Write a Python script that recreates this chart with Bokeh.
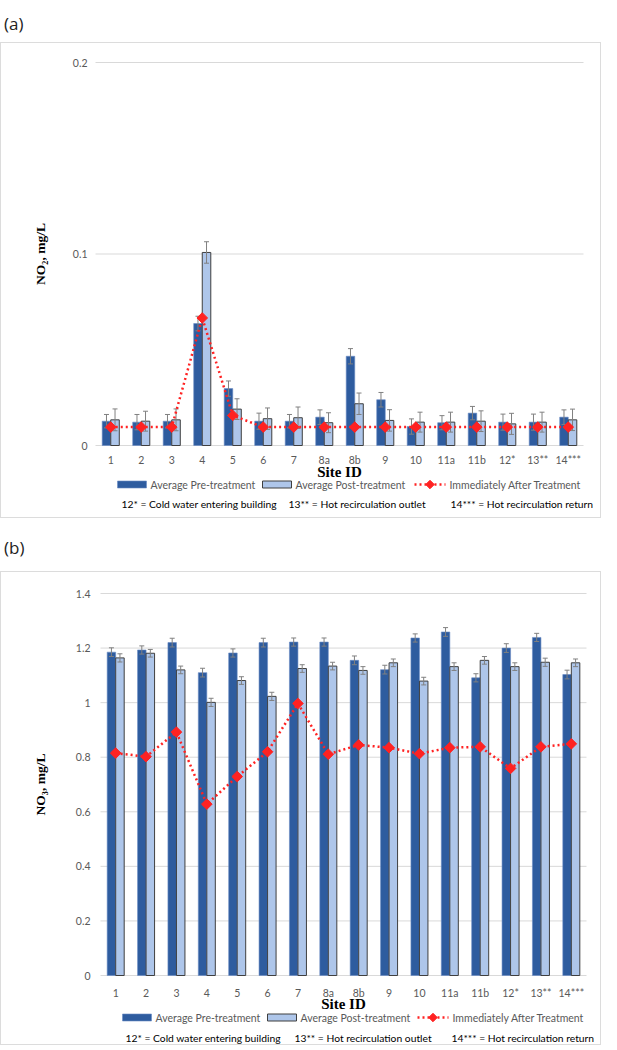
from bokeh.plotting import figure
from bokeh.models import Range1d, Whisker, ColumnDataSource, Div, TeeHead
from bokeh.core.properties import value
from bokeh.layouts import column
from bokeh.embed import file_html
from bokeh.resources import INLINE
import numpy as np

# ---------------- data ----------------
sites = ["1", "2", "3", "4", "5", "6", "7", "8a", "8b", "9", "10", "11a", "11b", "12*", "13**", "14***"]

no2_pre = [0.0127, 0.0122, 0.0127, 0.0637, 0.0297, 0.0127, 0.0127, 0.0148, 0.0466, 0.0239,
           0.0099, 0.0119, 0.0169, 0.0122, 0.0122, 0.0148]
no2_pre_err = [0.0035, 0.0040, 0.0035, 0.0038, 0.0040, 0.0042, 0.0035, 0.0038, 0.0040, 0.0038,
               0.0040, 0.0037, 0.0035, 0.0042, 0.0042, 0.0038]
no2_post = [0.0134, 0.0127, 0.0134, 0.1008, 0.0190, 0.0140, 0.0145, 0.0119, 0.0218, 0.0131,
            0.0122, 0.0122, 0.0127, 0.0113, 0.0122, 0.0134]
no2_post_err = [0.0057, 0.0052, 0.0057, 0.0056, 0.0054, 0.0056, 0.0056, 0.0052, 0.0056, 0.0056,
                0.0052, 0.0052, 0.0054, 0.0055, 0.0052, 0.0056]
no2_after = [0.0096, 0.0096, 0.0096, 0.0666, 0.0157, 0.0096, 0.0096, 0.0096, 0.0096, 0.0096,
             0.0096, 0.0096, 0.0096, 0.0096, 0.0096, 0.0096]
no2_ticks = [0, 0.1, 0.2]
no2_tick_labels = ["0", "0.1", "0.2"]

no3_pre = [1.185, 1.193, 1.220, 1.110, 1.182, 1.220, 1.222, 1.222, 1.155, 1.121,
           1.237, 1.259, 1.091, 1.200, 1.239, 1.103]
no3_pre_err = [0.016, 0.015, 0.016, 0.016, 0.015, 0.016, 0.015, 0.015, 0.016, 0.016,
               0.015, 0.016, 0.015, 0.016, 0.015, 0.016]
no3_post = [1.164, 1.181, 1.120, 1.001, 1.081, 1.023, 1.125, 1.134, 1.118, 1.146,
            1.079, 1.132, 1.155, 1.132, 1.148, 1.146]
no3_post_err = [0.015, 0.014, 0.014, 0.015, 0.014, 0.015, 0.014, 0.014, 0.014, 0.014,
                0.014, 0.014, 0.014, 0.014, 0.015, 0.014]
no3_after = [0.815, 0.802, 0.892, 0.628, 0.729, 0.820, 0.997, 0.811, 0.845, 0.835,
             0.813, 0.835, 0.838, 0.759, 0.838, 0.849]
no3_ticks = [0, 0.2, 0.4, 0.6, 0.8, 1.0, 1.2, 1.4]
no3_tick_labels = ["0", "0.2", "0.4", "0.6", "0.8", "1", "1.2", "1.4"]

legend_labels = ["Average Pre-treatment", "Average Post-treatment", "Immediately After Treatment"]
footnotes = ["12* = Cold water entering building", "13** = Hot recirculation outlet",
             "14*** = Hot recirculation return"]

DARK = "#2E5C9F"
DARK_EDGE = "#6a8cc4"
LIGHT = "#AEC6EA"
LIGHT_EDGE = "#3f3f3f"
RED = "#FF2222"
GRID = "#d9d9d9"
TXT = "#595959"
FONT = "Lato"
SERIF = "Liberation Serif"


def make_panel(pre, pre_err, post, post_err, after, ticks, tick_labels, ylabel,
               W, H, L, R, T, B, cfg):
    n = len(sites)
    ymax = ticks[-1]
    sx = (R - L) / n
    sy = (B - T) / ymax
    x0 = -0.5 - L / sx
    x1 = n - 0.5 + (W - R) / sx
    y0 = -(H - B) / sy
    y1 = ymax + T / sy

    def X(px):
        return x0 + px / sx

    def Y(py):
        return y1 - py / sy

    p = figure(width=W, height=H, output_backend="svg", toolbar_location=None,
               x_range=Range1d(x0, x1), y_range=Range1d(y0, y1),
               x_axis_location=None, y_axis_location=None, min_border=0,
               outline_line_color=None, background_fill_color="white",
               styles={"border": "1px solid #dcdcdc"})
    p.grid.visible = False

    # gridlines (value axis) incl. category axis line at 0
    p.segment(x0=[-0.5] * len(ticks), x1=[n - 0.5] * len(ticks), y0=ticks, y1=ticks,
              line_color=GRID, line_width=1)

    idx = np.arange(n)
    w = 0.28
    src_pre = ColumnDataSource(dict(x=idx - 0.14, top=pre,
                                    up=[a + b for a, b in zip(pre, pre_err)],
                                    lo=[a - b for a, b in zip(pre, pre_err)]))
    src_post = ColumnDataSource(dict(x=idx + 0.14, top=post,
                                     up=[a + b for a, b in zip(post, post_err)],
                                     lo=[a - b for a, b in zip(post, post_err)]))
    src_after = ColumnDataSource(dict(x=idx, y=after))

    p.vbar(x="x", top="top", width=w, source=src_pre, fill_color=DARK,
           line_color=DARK_EDGE, line_width=0.6)
    p.vbar(x="x", top="top", width=w, source=src_post, fill_color=LIGHT,
           line_color=LIGHT_EDGE, line_width=1)
    for s in (src_pre, src_post):
        wk = Whisker(base="x", upper="up", lower="lo", source=s, line_color="#808080",
                     line_width=1, level="glyph",
                     upper_head=TeeHead(size=5, line_color="#808080", line_width=1),
                     lower_head=TeeHead(size=5, line_color="#808080", line_width=1))
        p.add_layout(wk)
    p.line(x="x", y="y", source=src_after, line_color=RED, line_width=2.5,
           line_dash="2 3", level="overlay")
    p.scatter(x="x", y="y", source=src_after, marker="square", size=7.5,
              angle=np.pi / 4, fill_color=RED, line_color=RED, level="overlay")

    # value axis tick labels
    p.text(x=[-0.5] * len(ticks), y=ticks, text=tick_labels, x_offset=cfg["ytick_off"],
           text_align="right", text_baseline="middle", text_font=value(FONT),
           text_font_size="10.5px", text_color=TXT)
    # category labels
    p.text(x=list(idx), y=[0] * n, text=sites, y_offset=cfg["xtick_off"],
           text_align="center", text_baseline="middle", text_font=value(FONT),
           text_font_size="10.5px", text_color=TXT)
    # axis titles
    p.text(x=[(n - 1) / 2], y=[0], text=["Site ID"], y_offset=cfg["xlab_off"],
           text_align="center", text_baseline="middle", text_font=value(SERIF),
           text_font_style="bold", text_font_size="15px", text_color="black")
    p.text(x=[-0.5], y=[ymax / 2], text=[ylabel], x_offset=cfg["ylab_off"], angle=np.pi / 2,
           text_align="center", text_baseline="middle", text_font=value(SERIF),
           text_font_style="bold", text_font_size="13.5px", text_color="black")

    # legend (drawn at the reference's legend row)
    ly = Y(cfg["leg_y"])
    lx = cfg["leg_x"]
    p.rect(x=[X(lx[0] + 14.5)], y=[ly], width=29, height=7, width_units="screen",
           height_units="screen", fill_color=DARK, line_color=DARK_EDGE, line_width=0.6)
    p.rect(x=[X(lx[1] + 14.5)], y=[ly], width=29, height=7, width_units="screen",
           height_units="screen", fill_color=LIGHT, line_color=LIGHT_EDGE, line_width=1)
    p.line(x=[X(lx[2]), X(lx[2] + 31)], y=[ly, ly], line_color=RED, line_width=2.5,
           line_dash="2 3")
    p.scatter(x=[X(lx[2] + 15.5)], y=[ly], marker="square", size=6, angle=np.pi / 4,
              fill_color=RED, line_color=RED)
    p.text(x=[X(lx[0] + 33), X(lx[1] + 33), X(lx[2] + 35)], y=[ly] * 3, text=legend_labels,
           text_align="left", text_baseline="middle", text_font=value(FONT),
           text_font_size="10.5px", text_color=TXT)

    # footnotes
    fy = Y(cfg["foot_y"])
    p.text(x=[X(v) for v in cfg["foot_x"]], y=[fy] * 3, text=footnotes,
           text_align="left", text_baseline="middle", text_font=value(FONT),
           text_font_size="10.3px", text_color="black")
    p.margin = (0, 0, 0, 0)
    return p


cfg_a = dict(ytick_off=-8, xtick_off=14, xlab_off=26, ylab_off=-55,
             leg_y=441, leg_x=[116, 261, 413], foot_y=460, foot_x=[120, 287, 449])
cfg_b = dict(ytick_off=-10, xtick_off=17, xlab_off=28, ylab_off=-60,
             leg_y=445, leg_x=[121, 266, 416], foot_y=465, foot_x=[124, 293, 450])

pa = make_panel(no2_pre, no2_pre_err, no2_post, no2_post_err, no2_after,
                no2_ticks, no2_tick_labels, "NO\u2082, mg/L",
                601, 476, 94, 582, 19, 402, cfg_a)
pb = make_panel(no3_pre, no3_pre_err, no3_post, no3_post_err, no3_after,
                no3_ticks, no3_tick_labels, "NO\u2083, mg/L",
                601, 474, 99, 585, 21, 403, cfg_b)

div_style = {"font-family": "Open Sans", "font-size": "17px", "color": "#222222",
             "padding-left": "4px", "padding-top": "12px"}
da = Div(text="(a)", width=601, height=42, margin=(0, 0, 0, 0), styles=div_style)
db = Div(text="(b)", width=601, height=53, margin=(0, 0, 0, 0),
         styles=dict(div_style, **{"padding-top": "18px"}))

layout = column(da, pa, db, pb, spacing=0)
open("out.html", "w").write(file_html(layout, INLINE))
